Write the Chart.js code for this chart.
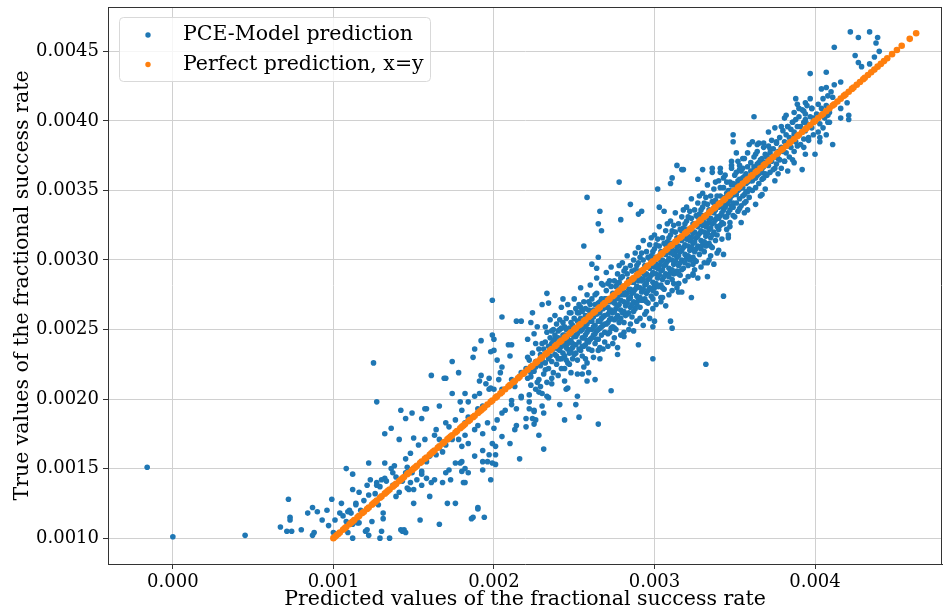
<!DOCTYPE html>
<html><head><meta charset="utf-8">
<script src="https://cdn.jsdelivr.net/npm/chart.js@4"></script>
<style>html,body{margin:0;padding:0;background:#fff}canvas{display:block}</style>
</head><body>
<canvas id="c" width="946" height="612"></canvas>
<script>
const seriesNames = ['PCE-Model prediction', 'Perfect prediction, x=y'];
const xAxisTitle = 'Predicted values of the fractional success rate';
const yAxisTitle = 'True values of the fractional success rate';
const xTickValues = [0, 0.001, 0.002, 0.003, 0.004];
const xTickLabels = ['0.000', '0.001', '0.002', '0.003', '0.004'];
const yTickValues = [0.0010, 0.0015, 0.0020, 0.0025, 0.0030, 0.0035, 0.0040, 0.0045];
const yTickLabels = ['0.0010', '0.0015', '0.0020', '0.0025', '0.0030', '0.0035', '0.0040', '0.0045'];

// [predicted, true] pairs
const modelPoints = [
[-0.00016,0.00151],[0.00000,0.00101],[0.00045,0.00102],[0.00067,0.00108],[0.00072,0.00128],[0.00071,0.00105],[0.00074,0.00105],[0.00073,0.00115],[0.00073,0.00113],[0.00080,0.00106],[0.00084,0.00118],[0.00087,0.00122],[0.00090,0.00119],[0.00087,0.00102],[0.00088,0.00104],[0.00093,0.00113],[0.00096,0.00120],[0.00097,0.00109],[0.00099,0.00128],[0.00100,0.00104],[0.00101,0.00113],[0.00104,0.00118],[0.00105,0.00125],[0.00106,0.00116],[0.00108,0.00150],[0.00109,0.00104],[0.00110,0.00120],[0.00111,0.00118],[0.00112,0.00100],[0.00112,0.00135],[0.00112,0.00146],[0.00115,0.00111],[0.00114,0.00125],[0.00116,0.00133],[0.00120,0.00105],[0.00122,0.00154],[0.00121,0.00138],[0.00122,0.00102],[0.00123,0.00142],[0.00124,0.00112],[0.00126,0.00132],[0.00127,0.00140],[0.00128,0.00124],[0.00129,0.00100],[0.00130,0.00105],[0.00131,0.00118],[0.00131,0.00114],[0.00132,0.00143],[0.00133,0.00141],[0.00136,0.00150],[0.00137,0.00138],[0.00138,0.00152],[0.00139,0.00130],[0.00141,0.00133],[0.00142,0.00106],[0.00144,0.00106],[0.00145,0.00104],[0.00143,0.00141],[0.00146,0.00136],[0.00147,0.00135],[0.00149,0.00147],[0.00150,0.00125],[0.00150,0.00135],[0.00154,0.00113],[0.00155,0.00138],[0.00155,0.00146],[0.00158,0.00143],[0.00160,0.00130],[0.00161,0.00140],[0.00166,0.00110],[0.00168,0.00140],[0.00171,0.00125],[0.00173,0.00142],[0.00179,0.00154],[0.00180,0.00148],[0.00181,0.00140],[0.00184,0.00147],[0.00186,0.00114],[0.00190,0.00122],[0.00194,0.00115],[0.00193,0.00155],[0.00198,0.00142],[0.00199,0.00154],[0.00201,0.00153],[0.00216,0.00157],[0.00197,0.00160],[0.00201,0.00160],[0.00231,0.00164],
[0.00125,0.00226],[0.00127,0.00198],[0.00132,0.00154],[0.00132,0.00175],[0.00136,0.00179],[0.00141,0.00171],[0.00142,0.00192],[0.00145,0.00186],[0.00150,0.00172],[0.00149,0.00190],[0.00155,0.00186],[0.00158,0.00193],[0.00161,0.00217],[0.00163,0.00174],[0.00170,0.00215],[0.00174,0.00227],[0.00178,0.00219],[0.00188,0.00236],[0.00192,0.00242],[0.00199,0.00246],[0.00200,0.00235],[0.00198,0.00234],[0.00209,0.00239],[0.00221,0.00243],[0.00176,0.00125],[0.00190,0.00121],[0.00187,0.00115],[0.00172,0.00149],[0.00182,0.00140],[0.00201,0.00166],[0.00180,0.00155],[0.00180,0.00166],[0.00196,0.00155],[0.00193,0.00149],[0.00224,0.00186],[0.00225,0.00192],[0.00230,0.00195],[0.00228,0.00174],[0.00220,0.00186],[0.00214,0.00181],
[0.00199,0.00271],[0.00205,0.00259],[0.00214,0.00256],[0.00217,0.00256],[0.00224,0.00262],[0.00233,0.00276],[0.00243,0.00272],[0.00230,0.00268],[0.00234,0.00269],[0.00187,0.00230],[0.00169,0.00215],[0.00200,0.00243],[0.00211,0.00239],[0.00202,0.00228],[0.00210,0.00231],[0.00225,0.00247],[0.00232,0.00252],[0.00227,0.00252],[0.00238,0.00243],[0.00236,0.00240],[0.00174,0.00204],[0.00179,0.00198],[0.00182,0.00204],[0.00166,0.00195],[0.00157,0.00193],[0.00170,0.00183],[0.00184,0.00187],[0.00190,0.00193],[0.00191,0.00204],[0.00192,0.00217],[0.00191,0.00213],[0.00197,0.00215],[0.00198,0.00208],[0.00200,0.00207],[0.00203,0.00214],[0.00204,0.00219],[0.00205,0.00223],[0.00213,0.00213],[0.00211,0.00199],[0.00217,0.00202],[0.00222,0.00193],[0.00222,0.00198],[0.00225,0.00191],[0.00229,0.00209],[0.00233,0.00202],[0.00236,0.00211],[0.00226,0.00185],[0.00225,0.00182],[0.00234,0.00201],[0.00246,0.00208],[0.00244,0.00185],[0.00252,0.00202],[0.00241,0.00196],
[0.00130,0.00142],[0.00127,0.00138],[0.00129,0.00137],[0.00139,0.00144],[0.00137,0.00147],[0.00145,0.00147],[0.00146,0.00151],[0.00148,0.00140],[0.00152,0.00142],[0.00155,0.00148],[0.00158,0.00155],[0.00160,0.00159],[0.00164,0.00160],[0.00166,0.00165],[0.00168,0.00162],[0.00170,0.00167],[0.00174,0.00171],[0.00178,0.00171],[0.00182,0.00174],[0.00184,0.00168],[0.00188,0.00178],[0.00190,0.00181],[0.00193,0.00175],[0.00196,0.00183],[0.00200,0.00179],[0.00202,0.00185],[0.00205,0.00190],[0.00207,0.00192],[0.00211,0.00196],[0.00214,0.00193],[0.00217,0.00201],[0.00222,0.00203],[0.00226,0.00207],[0.00230,0.00204],
[0.00145,0.00157],[0.00148,0.00161],[0.00153,0.00167],[0.00157,0.00171],[0.00164,0.00178],[0.00166,0.00171],[0.00172,0.00180],[0.00176,0.00185],[0.00180,0.00192],[0.00182,0.00183],[0.00184,0.00198],[0.00188,0.00202],[0.00193,0.00195],[0.00197,0.00207],[0.00195,0.00211],[0.00205,0.00207],[0.00211,0.00214],[0.00213,0.00209],[0.00217,0.00219],[0.00223,0.00216],[0.00226,0.00223],[0.00228,0.00214],[0.00230,0.00227],[0.00232,0.00221],
[0.00163,0.00142],[0.00170,0.00147],[0.00176,0.00154],[0.00182,0.00150],[0.00188,0.00159],[0.00193,0.00163],[0.00199,0.00168],[0.00205,0.00173],[0.00210,0.00168],[0.00213,0.00178],[0.00220,0.00180],[0.00231,0.00190],
[0.00109,0.00119],[0.00114,0.00124],[0.00117,0.00120],[0.00119,0.00127],[0.00122,0.00131],[0.00108,0.00112],[0.00112,0.00110],[0.00116,0.00111],[0.00121,0.00106],[0.00143,0.00105],[0.00135,0.00100],
[0.00273,0.00206],[0.00265,0.00182],[0.00253,0.00187],[0.00251,0.00196],[0.00245,0.00207],[0.00258,0.00213],[0.00263,0.00214],[0.00259,0.00219],[0.00244,0.00222],[0.00255,0.00218],[0.00277,0.00232],[0.00290,0.00239],[0.00281,0.00245],[0.00300,0.00256],[0.00310,0.00256],[0.00311,0.00251],[0.00293,0.00253],[0.00299,0.00252],[0.00299,0.00229],[0.00332,0.00225],
[0.00258,0.00345],[0.00266,0.00335],[0.00265,0.00326],[0.00267,0.00321],[0.00256,0.00310],[0.00261,0.00297],[0.00264,0.00294],[0.00285,0.00340],[0.00278,0.00356],[0.00223,0.00255],
[0.00265,0.00302],[0.00279,0.00329],[0.00290,0.00333],[0.00292,0.00335],[0.00302,0.00351],[0.00303,0.00338],[0.00306,0.00335],[0.00310,0.00355],[0.00311,0.00359],[0.00314,0.00368],[0.00317,0.00365],[0.00327,0.00358],[0.00336,0.00366],[0.00341,0.00366],[0.00349,0.00390],[0.00348,0.00371],[0.00351,0.00377],
[0.00343,0.00274],[0.00333,0.00288],[0.00324,0.00289],[0.00324,0.00297],[0.00340,0.00307],[0.00347,0.00324],[0.00346,0.00316],[0.00315,0.00277],[0.00315,0.00283],[0.00317,0.00293],[0.00312,0.00283],[0.00304,0.00273],[0.00300,0.00280],[0.00299,0.00272],[0.00323,0.00273],[0.00343,0.00304],[0.00333,0.00298],
[0.00422,0.00464],[0.00427,0.00460],[0.00434,0.00464],[0.00438,0.00456],[0.00412,0.00453],[0.00425,0.00447],[0.00427,0.00442],[0.00429,0.00439],[0.00434,0.00441],[0.00437,0.00437],[0.00407,0.00435],[0.00397,0.00434],[0.00416,0.00428],[0.00412,0.00426],[0.00407,0.00424],[0.00410,0.00421],[0.00404,0.00423],[0.00411,0.00417],[0.00420,0.00413],[0.00416,0.00409],[0.00421,0.00404],[0.00421,0.00401],[0.00416,0.00402],[0.00409,0.00399],[0.00408,0.00404],[0.00407,0.00390],[0.00403,0.00385],[0.00411,0.00383],[0.00400,0.00376],[0.00388,0.00416],[0.00389,0.00412],[0.00394,0.00413],[0.00397,0.00416],[0.00398,0.00409],[0.00390,0.00409],[0.00393,0.00407],[0.00387,0.00406],[0.00394,0.00401],[0.00362,0.00403],[0.00381,0.00402],[0.00379,0.00396],[0.00383,0.00396],[0.00386,0.00399],[0.00387,0.00390],[0.00396,0.00388],[0.00403,0.00388],[0.00376,0.00385],[0.00349,0.00385],[0.00359,0.00383],[0.00364,0.00383],[0.00368,0.00384],[0.00372,0.00380],[0.00393,0.00381],[0.00394,0.00376],[0.00355,0.00373],[0.00358,0.00377],[0.00363,0.00376],[0.00366,0.00370],[0.00370,0.00374],[0.00377,0.00373],[0.00381,0.00371],[0.00387,0.00370],[0.00392,0.00365],[0.00383,0.00364],[0.00375,0.00366],[0.00367,0.00363],[0.00361,0.00363],[0.00353,0.00368],[0.00348,0.00368],[0.00336,0.00363],[0.00341,0.00363],[0.00330,0.00365],[0.00318,0.00365],[0.00439,0.00460],[0.00440,0.00450],[0.00437,0.00446],
[0.00230,0.00229],[0.00231,0.00236],[0.00232,0.00226],[0.00232,0.00241],[0.00233,0.00233],[0.00233,0.00248],[0.00234,0.00222],[0.00234,0.00238],[0.00235,0.00231],[0.00235,0.00244],[0.00236,0.00227],[0.00236,0.00236],[0.00237,0.00219],[0.00237,0.00242],[0.00237,0.00250],[0.00238,0.00232],[0.00238,0.00246],[0.00239,0.00225],[0.00239,0.00239],[0.00239,0.00254],[0.00231,0.00218],[0.00233,0.00212],[0.00235,0.00257],[0.00236,0.00215],[0.00238,0.00260],[0.00234,0.00229],[0.00236,0.00249],[0.00230,0.00240],[0.00239,0.00231],[0.00237,0.00236],
[0.00240,0.00236],[0.00240,0.00249],[0.00241,0.00229],[0.00241,0.00243],[0.00241,0.00257],[0.00242,0.00238],[0.00242,0.00222],[0.00243,0.00246],[0.00243,0.00233],[0.00244,0.00252],[0.00244,0.00240],[0.00245,0.00228],[0.00245,0.00244],[0.00245,0.00258],[0.00246,0.00236],[0.00246,0.00250],[0.00247,0.00242],[0.00247,0.00225],[0.00247,0.00262],[0.00248,0.00247],[0.00248,0.00234],[0.00249,0.00253],[0.00249,0.00240],[0.00249,0.00229],[0.00240,0.00217],[0.00242,0.00266],[0.00244,0.00213],[0.00246,0.00268],[0.00248,0.00219],[0.00243,0.00255],[0.00245,0.00237],[0.00247,0.00251],[0.00249,0.00246],[0.00241,0.00250],[0.00248,0.00262],[0.00246,0.00243],
[0.00250,0.00245],[0.00250,0.00258],[0.00250,0.00232],[0.00251,0.00251],[0.00251,0.00239],[0.00252,0.00262],[0.00252,0.00247],[0.00252,0.00228],[0.00253,0.00255],[0.00253,0.00241],[0.00254,0.00249],[0.00254,0.00266],[0.00254,0.00235],[0.00255,0.00257],[0.00255,0.00244],[0.00256,0.00252],[0.00256,0.00238],[0.00256,0.00270],[0.00257,0.00260],[0.00257,0.00246],[0.00257,0.00229],[0.00258,0.00254],[0.00258,0.00242],[0.00259,0.00264],[0.00259,0.00250],[0.00259,0.00236],[0.00250,0.00272],[0.00252,0.00218],[0.00254,0.00280],[0.00256,0.00223],[0.00258,0.00275],[0.00253,0.00268],[0.00255,0.00231],[0.00257,0.00239],[0.00259,0.00258],[0.00251,0.00265],[0.00258,0.00226],[0.00255,0.00263],
[0.00260,0.00256],[0.00260,0.00243],[0.00260,0.00268],[0.00261,0.00250],[0.00261,0.00262],[0.00261,0.00235],[0.00262,0.00259],[0.00262,0.00246],[0.00263,0.00268],[0.00263,0.00253],[0.00263,0.00240],[0.00264,0.00261],[0.00264,0.00249],[0.00264,0.00276],[0.00265,0.00256],[0.00265,0.00243],[0.00265,0.00269],[0.00266,0.00262],[0.00266,0.00251],[0.00266,0.00237],[0.00267,0.00272],[0.00267,0.00258],[0.00267,0.00246],[0.00268,0.00265],[0.00268,0.00253],[0.00268,0.00282],[0.00269,0.00260],[0.00269,0.00248],[0.00269,0.00241],[0.00260,0.00282],[0.00262,0.00230],[0.00264,0.00287],[0.00266,0.00229],[0.00268,0.00236],[0.00263,0.00275],[0.00265,0.00235],[0.00267,0.00283],[0.00269,0.00272],[0.00261,0.00272],[0.00262,0.00264],[0.00266,0.00270],
[0.00270,0.00266],[0.00270,0.00254],[0.00270,0.00278],[0.00271,0.00261],[0.00271,0.00247],[0.00272,0.00270],[0.00272,0.00257],[0.00272,0.00285],[0.00273,0.00264],[0.00273,0.00251],[0.00274,0.00276],[0.00274,0.00262],[0.00274,0.00240],[0.00275,0.00269],[0.00275,0.00257],[0.00276,0.00281],[0.00276,0.00265],[0.00276,0.00250],[0.00277,0.00273],[0.00277,0.00260],[0.00277,0.00290],[0.00278,0.00268],[0.00278,0.00255],[0.00279,0.00279],[0.00279,0.00264],[0.00279,0.00246],[0.00270,0.00291],[0.00271,0.00238],[0.00273,0.00295],[0.00275,0.00244],[0.00277,0.00237],[0.00278,0.00296],[0.00272,0.00248],[0.00274,0.00252],[0.00276,0.00272],[0.00278,0.00284],[0.00279,0.00271],[0.00271,0.00283],[0.00275,0.00285],[0.00273,0.00272],
[0.00280,0.00275],[0.00280,0.00262],[0.00280,0.00288],[0.00281,0.00270],[0.00281,0.00255],[0.00282,0.00281],[0.00282,0.00267],[0.00282,0.00294],[0.00283,0.00276],[0.00283,0.00261],[0.00284,0.00286],[0.00284,0.00272],[0.00284,0.00250],[0.00285,0.00279],[0.00285,0.00266],[0.00286,0.00292],[0.00286,0.00276],[0.00286,0.00259],[0.00287,0.00284],[0.00287,0.00270],[0.00287,0.00300],[0.00288,0.00279],[0.00288,0.00265],[0.00289,0.00289],[0.00289,0.00274],[0.00289,0.00256],[0.00280,0.00298],[0.00281,0.00248],[0.00283,0.00303],[0.00285,0.00254],[0.00287,0.00249],[0.00288,0.00305],[0.00282,0.00275],[0.00284,0.00262],[0.00286,0.00284],[0.00288,0.00293],[0.00289,0.00281],[0.00281,0.00292],[0.00285,0.00296],[0.00283,0.00283],
[0.00290,0.00285],[0.00290,0.00271],[0.00290,0.00298],[0.00291,0.00280],[0.00291,0.00266],[0.00292,0.00291],[0.00292,0.00277],[0.00292,0.00305],[0.00293,0.00286],[0.00293,0.00271],[0.00294,0.00296],[0.00294,0.00282],[0.00294,0.00261],[0.00295,0.00290],[0.00295,0.00276],[0.00296,0.00302],[0.00296,0.00286],[0.00296,0.00269],[0.00297,0.00294],[0.00297,0.00280],[0.00297,0.00311],[0.00298,0.00289],[0.00298,0.00274],[0.00299,0.00299],[0.00299,0.00284],[0.00299,0.00265],[0.00290,0.00309],[0.00291,0.00258],[0.00293,0.00314],[0.00295,0.00263],[0.00297,0.00258],[0.00298,0.00316],[0.00292,0.00285],[0.00294,0.00272],[0.00296,0.00295],[0.00298,0.00303],[0.00299,0.00291],[0.00291,0.00302],[0.00295,0.00306],[0.00293,0.00293],
[0.00300,0.00295],[0.00300,0.00281],[0.00300,0.00308],[0.00301,0.00290],[0.00301,0.00276],[0.00302,0.00301],[0.00302,0.00287],[0.00302,0.00315],[0.00303,0.00296],[0.00303,0.00281],[0.00304,0.00306],[0.00304,0.00292],[0.00304,0.00270],[0.00305,0.00300],[0.00305,0.00286],[0.00306,0.00312],[0.00306,0.00296],[0.00306,0.00279],[0.00307,0.00304],[0.00307,0.00290],[0.00307,0.00321],[0.00308,0.00299],[0.00308,0.00284],[0.00309,0.00309],[0.00309,0.00294],[0.00309,0.00275],[0.00300,0.00318],[0.00301,0.00268],[0.00303,0.00324],[0.00305,0.00273],[0.00307,0.00267],[0.00308,0.00326],[0.00302,0.00294],[0.00304,0.00282],[0.00306,0.00305],[0.00308,0.00313],[0.00309,0.00301],[0.00301,0.00311],[0.00305,0.00316],[0.00303,0.00303],
[0.00310,0.00305],[0.00310,0.00291],[0.00310,0.00318],[0.00311,0.00300],[0.00311,0.00286],[0.00312,0.00311],[0.00312,0.00297],[0.00312,0.00325],[0.00313,0.00306],[0.00313,0.00291],[0.00314,0.00316],[0.00314,0.00302],[0.00314,0.00280],[0.00315,0.00310],[0.00315,0.00296],[0.00316,0.00322],[0.00316,0.00306],[0.00316,0.00289],[0.00317,0.00314],[0.00317,0.00300],[0.00317,0.00331],[0.00318,0.00309],[0.00318,0.00294],[0.00319,0.00319],[0.00319,0.00304],[0.00319,0.00285],[0.00310,0.00328],[0.00311,0.00278],[0.00313,0.00334],[0.00315,0.00283],[0.00317,0.00277],[0.00318,0.00336],[0.00312,0.00304],[0.00314,0.00292],[0.00316,0.00315],[0.00318,0.00323],[0.00319,0.00311],[0.00311,0.00321],[0.00315,0.00326],[0.00313,0.00313],
[0.00320,0.00315],[0.00320,0.00301],[0.00320,0.00328],[0.00321,0.00310],[0.00321,0.00296],[0.00322,0.00321],[0.00322,0.00307],[0.00322,0.00335],[0.00323,0.00316],[0.00323,0.00301],[0.00324,0.00326],[0.00324,0.00312],[0.00324,0.00290],[0.00325,0.00320],[0.00325,0.00306],[0.00326,0.00332],[0.00326,0.00316],[0.00326,0.00299],[0.00327,0.00324],[0.00327,0.00310],[0.00327,0.00341],[0.00328,0.00319],[0.00328,0.00304],[0.00329,0.00329],[0.00329,0.00314],[0.00329,0.00295],[0.00320,0.00338],[0.00321,0.00288],[0.00323,0.00344],[0.00325,0.00293],[0.00327,0.00287],[0.00328,0.00346],[0.00322,0.00314],[0.00324,0.00302],[0.00326,0.00325],[0.00328,0.00333],[0.00329,0.00321],[0.00321,0.00331],[0.00325,0.00336],[0.00323,0.00323],
[0.00330,0.00325],[0.00330,0.00311],[0.00330,0.00338],[0.00331,0.00320],[0.00331,0.00306],[0.00332,0.00331],[0.00332,0.00317],[0.00332,0.00345],[0.00333,0.00326],[0.00333,0.00311],[0.00334,0.00336],[0.00334,0.00322],[0.00334,0.00300],[0.00335,0.00330],[0.00335,0.00316],[0.00336,0.00342],[0.00336,0.00326],[0.00336,0.00309],[0.00337,0.00334],[0.00337,0.00320],[0.00337,0.00351],[0.00338,0.00329],[0.00338,0.00314],[0.00339,0.00339],[0.00339,0.00324],[0.00339,0.00305],[0.00330,0.00348],[0.00331,0.00298],[0.00333,0.00354],[0.00335,0.00303],[0.00337,0.00297],[0.00338,0.00356],[0.00332,0.00324],[0.00334,0.00312],[0.00336,0.00335],[0.00338,0.00343],[0.00339,0.00331],[0.00331,0.00341],[0.00335,0.00346],[0.00333,0.00333],
[0.00340,0.00338],[0.00340,0.00322],[0.00341,0.00332],[0.00341,0.00346],[0.00342,0.00327],[0.00342,0.00341],[0.00343,0.00336],[0.00343,0.00352],[0.00344,0.00331],[0.00344,0.00345],[0.00345,0.00322],[0.00345,0.00340],[0.00346,0.00350],[0.00346,0.00334],[0.00347,0.00344],[0.00347,0.00327],[0.00348,0.00354],[0.00348,0.00339],[0.00349,0.00348],[0.00349,0.00332],[0.00340,0.00357],[0.00342,0.00315],[0.00344,0.00361],[0.00346,0.00318],[0.00348,0.00366],[0.00345,0.00356],[0.00347,0.00336],[0.00349,0.00341],[0.00341,0.00339],[0.00343,0.00326],
[0.00350,0.00347],[0.00350,0.00361],[0.00351,0.00341],[0.00351,0.00354],[0.00352,0.00335],[0.00352,0.00350],[0.00353,0.00358],[0.00353,0.00344],[0.00354,0.00364],[0.00354,0.00339],[0.00355,0.00352],[0.00355,0.00346],[0.00356,0.00360],[0.00356,0.00334],[0.00357,0.00355],[0.00357,0.00342],[0.00358,0.00367],[0.00358,0.00349],[0.00359,0.00358],[0.00359,0.00345],[0.00350,0.00331],[0.00352,0.00371],[0.00354,0.00327],[0.00356,0.00373],[0.00358,0.00336],[0.00353,0.00351],[0.00355,0.00366],[0.00357,0.00362],
[0.00360,0.00357],[0.00360,0.00370],[0.00361,0.00350],[0.00361,0.00364],[0.00362,0.00359],[0.00362,0.00374],[0.00363,0.00352],[0.00363,0.00366],[0.00364,0.00361],[0.00364,0.00378],[0.00365,0.00355],[0.00365,0.00370],[0.00366,0.00364],[0.00366,0.00346],[0.00367,0.00373],[0.00367,0.00358],[0.00368,0.00367],[0.00368,0.00381],[0.00369,0.00362],[0.00369,0.00351],[0.00361,0.00385],[0.00363,0.00340],[0.00365,0.00384],[0.00367,0.00347],[0.00369,0.00376],
[0.00370,0.00374],[0.00370,0.00361],[0.00371,0.00368],[0.00371,0.00382],[0.00372,0.00377],[0.00372,0.00363],[0.00373,0.00371],[0.00373,0.00386],[0.00374,0.00365],[0.00374,0.00380],[0.00375,0.00374],[0.00375,0.00357],[0.00376,0.00384],[0.00376,0.00369],[0.00377,0.00378],[0.00377,0.00362],[0.00378,0.00388],[0.00378,0.00372],[0.00379,0.00381],[0.00379,0.00366],[0.00371,0.00392],[0.00375,0.00395],
[0.00380,0.00378],[0.00380,0.00393],[0.00381,0.00385],[0.00381,0.00371],[0.00382,0.00390],[0.00382,0.00377],[0.00383,0.00396],[0.00383,0.00382],[0.00384,0.00388],[0.00384,0.00374],[0.00385,0.00394],[0.00385,0.00381],[0.00386,0.00399],[0.00386,0.00387],[0.00387,0.00392],[0.00387,0.00378],[0.00388,0.00401],[0.00388,0.00385],[0.00389,0.00396],[0.00389,0.00382],[0.00382,0.00404],[0.00386,0.00372],
[0.00390,0.00390],[0.00390,0.00403],[0.00391,0.00396],[0.00391,0.00383],[0.00392,0.00408],[0.00392,0.00392],[0.00393,0.00399],[0.00393,0.00387],[0.00394,0.00405],[0.00394,0.00393],[0.00395,0.00411],[0.00395,0.00398],[0.00396,0.00386],[0.00397,0.00403],[0.00398,0.00409],[0.00398,0.00395],[0.00399,0.00402],[0.00399,0.00390],
[0.00401,0.00405],[0.00402,0.00412],[0.00403,0.00398],[0.00404,0.00409],[0.00405,0.00416],[0.00406,0.00402],[0.00407,0.00411],[0.00408,0.00418],[0.00409,0.00406],[0.00405,0.00395],[0.00402,0.00392],[0.00408,0.00399],
[0.00220,0.00222],[0.00221,0.00215],[0.00222,0.00228],[0.00223,0.00210],[0.00224,0.00233],[0.00225,0.00220],[0.00226,0.00227],[0.00227,0.00212],[0.00228,0.00236],[0.00229,0.00224],[0.00221,0.00230],[0.00223,0.00219],[0.00226,0.00240],[0.00228,0.00205],[0.00229,0.00232],
[0.00240,0.00244],[0.00241,0.00235],[0.00242,0.00251],[0.00243,0.00240],[0.00244,0.00231],[0.00245,0.00250],[0.00246,0.00240],[0.00247,0.00233],[0.00248,0.00255],[0.00249,0.00237],[0.00242,0.00229],[0.00244,0.00246],[0.00246,0.00226],[0.00248,0.00242],[0.00240,0.00229],
[0.00250,0.00250],[0.00251,0.00245],[0.00252,0.00256],[0.00253,0.00236],[0.00254,0.00258],[0.00255,0.00250],[0.00256,0.00244],[0.00257,0.00265],[0.00258,0.00248],[0.00259,0.00241],[0.00251,0.00233],[0.00253,0.00262],[0.00255,0.00238],[0.00257,0.00252],[0.00259,0.00270],
[0.00260,0.00262],[0.00261,0.00256],[0.00262,0.00252],[0.00263,0.00262],[0.00264,0.00243],[0.00265,0.00263],[0.00266,0.00256],[0.00267,0.00265],[0.00268,0.00259],[0.00269,0.00266],[0.00261,0.00244],[0.00263,0.00247],[0.00265,0.00250],[0.00267,0.00252],[0.00269,0.00254],
[0.00270,0.00272],[0.00271,0.00266],[0.00272,0.00263],[0.00273,0.00258],[0.00274,0.00270],[0.00275,0.00263],[0.00276,0.00258],[0.00277,0.00267],[0.00278,0.00275],[0.00279,0.00258],[0.00271,0.00255],[0.00273,0.00281],[0.00275,0.00251],[0.00277,0.00283],[0.00279,0.00287],
[0.00280,0.00281],[0.00281,0.00277],[0.00282,0.00260],[0.00283,0.00269],[0.00284,0.00279],[0.00285,0.00273],[0.00286,0.00268],[0.00287,0.00277],[0.00288,0.00286],[0.00289,0.00268],[0.00281,0.00263],[0.00283,0.00290],[0.00285,0.00286],[0.00287,0.00263],[0.00289,0.00296],
[0.00290,0.00292],[0.00291,0.00287],[0.00292,0.00271],[0.00293,0.00279],[0.00294,0.00289],[0.00295,0.00283],[0.00296,0.00278],[0.00297,0.00287],[0.00298,0.00296],[0.00299,0.00278],[0.00291,0.00273],[0.00293,0.00300],[0.00295,0.00270],[0.00297,0.00301],[0.00299,0.00306],
[0.00300,0.00302],[0.00301,0.00297],[0.00302,0.00281],[0.00303,0.00289],[0.00304,0.00299],[0.00305,0.00293],[0.00306,0.00288],[0.00307,0.00297],[0.00308,0.00306],[0.00309,0.00288],[0.00301,0.00283],[0.00303,0.00310],[0.00305,0.00280],[0.00307,0.00311],[0.00309,0.00316],
[0.00310,0.00312],[0.00311,0.00307],[0.00312,0.00290],[0.00313,0.00299],[0.00314,0.00309],[0.00315,0.00303],[0.00316,0.00298],[0.00317,0.00307],[0.00318,0.00316],[0.00319,0.00298],[0.00311,0.00293],[0.00313,0.00320],[0.00315,0.00290],[0.00317,0.00321],[0.00319,0.00326],
[0.00320,0.00322],[0.00321,0.00317],[0.00322,0.00300],[0.00323,0.00309],[0.00324,0.00319],[0.00325,0.00313],[0.00326,0.00308],[0.00327,0.00317],[0.00328,0.00326],[0.00329,0.00308],[0.00321,0.00303],[0.00323,0.00330],[0.00325,0.00300],[0.00327,0.00331],[0.00329,0.00336],
[0.00330,0.00332],[0.00331,0.00327],[0.00332,0.00310],[0.00333,0.00319],[0.00334,0.00329],[0.00335,0.00323],[0.00336,0.00318],[0.00337,0.00327],[0.00338,0.00336],[0.00339,0.00318],[0.00331,0.00313],[0.00333,0.00340],[0.00335,0.00310],[0.00337,0.00341],[0.00339,0.00346],
[0.00340,0.00330],[0.00341,0.00352],[0.00342,0.00334],[0.00343,0.00344],[0.00344,0.00338],[0.00345,0.00348],[0.00346,0.00342],[0.00347,0.00356],[0.00348,0.00346],[0.00349,0.00355],[0.00341,0.00325],[0.00343,0.00359],[0.00345,0.00331],[0.00347,0.00350],[0.00349,0.00338],
[0.00350,0.00354],[0.00351,0.00347],[0.00352,0.00357],[0.00353,0.00337],[0.00354,0.00352],[0.00355,0.00359],[0.00356,0.00347],[0.00357,0.00349],[0.00358,0.00356],[0.00359,0.00351],[0.00351,0.00363],[0.00353,0.00365],[0.00356,0.00341],
[0.00360,0.00364],[0.00361,0.00357],[0.00362,0.00367],[0.00363,0.00359],[0.00364,0.00369],[0.00365,0.00362],[0.00366,0.00372],[0.00367,0.00366],[0.00368,0.00359],[0.00369,0.00370]
];

// true values, plotted against themselves (perfect prediction)
const perfectValues = [
0.00100,0.00101,0.00102,0.00103,0.00104,0.00106,0.00107,0.00108,0.00110,0.00111,0.00112,0.00113,0.00115,0.00116,0.00118,0.00119,0.00121,0.00122,0.00124,0.00125,0.00126,0.00127,0.00129,0.00130,0.00132,0.00133,0.00134,0.00135,0.00137,0.00138,0.00139,0.00141,0.00142,0.00143,0.00144,0.00146,0.00147,0.00149,0.00150,0.00151,0.00152,0.00154,0.00155,0.00157,0.00158,0.00160,0.00161,0.00162,0.00163,0.00165,0.00166,0.00168,0.00169,0.00171,0.00172,0.00173,0.00174,0.00176,0.00177,0.00179,0.00180,0.00181,0.00182,0.00184,0.00185,0.00187,0.00188,0.00190,0.00191,0.00192,0.00193,0.00194,0.00196,0.00198,0.00199,0.00201,0.00202,0.00204,0.00205,0.00207,0.00209,0.00210,0.00212,0.00213,0.00215,0.00216,0.00218,0.00219,0.00221,0.00223,0.00224,0.00226,0.00227,0.00229,0.00230,0.00232,0.00233,0.00235,0.00236,0.00238,0.00239,0.00241,0.00242,0.00244,0.00245,0.00247,0.00248,0.00250,0.00251,0.00253,0.00254,0.00256,0.00257,0.00259,0.00260,0.00262,0.00263,0.00265,0.00266,0.00268,0.00269,0.00271,0.00272,0.00274,0.00275,0.00277,0.00278,0.00280,0.00281,0.00283,0.00284,0.00286,0.00287,0.00289,0.00290,0.00292,0.00293,0.00295,0.00296,0.00298,0.00299,0.00301,0.00302,0.00304,0.00305,0.00307,0.00308,0.00310,0.00311,0.00313,0.00314,0.00316,0.00317,0.00319,0.00320,0.00322,0.00323,0.00325,0.00326,0.00328,0.00329,0.00331,0.00332,0.00334,0.00335,0.00337,0.00338,0.00340,0.00341,0.00343,0.00344,0.00346,0.00347,0.00349,0.00350,0.00352,0.00353,0.00355,0.00357,0.00358,0.00360,0.00361,0.00363,0.00364,0.00366,0.00368,0.00369,0.00371,0.00372,0.00374,0.00376,0.00377,0.00379,0.00380,0.00382,0.00384,0.00385,0.00387,0.00389,0.00390,0.00392,0.00394,0.00395,0.00397,0.00399,0.00400,0.00402,0.00404,0.00405,0.00407,0.00409,0.00411,0.00412,0.00414,0.00416,0.00418,0.00419,0.00421,0.00423,0.00424,0.00426,0.00428,0.00430,0.00431,0.00433,0.00435,0.00437,0.00439,0.00441,0.00443,0.00445,0.00448,0.00451,0.00454,0.00459,0.00463
];

Chart.defaults.font.family = "'DejaVu Serif', serif";
Chart.defaults.color = '#000';

const frame = {
  id: 'frame',
  afterDraw(chart) {
    const {ctx, chartArea: a} = chart;
    ctx.save();
    ctx.strokeStyle = '#333';
    ctx.lineWidth = 1;
    ctx.beginPath();
    ctx.moveTo(a.left, Math.round(a.top) + 0.5);
    ctx.lineTo(a.right, Math.round(a.top) + 0.5);
    ctx.moveTo(Math.round(a.right) - 0.5, a.top);
    ctx.lineTo(Math.round(a.right) - 0.5, a.bottom);
    ctx.stroke();
    ctx.restore();
  }
};

const legendBox = {
  id: 'legendBox',
  afterDraw(chart) {
    const c = chart.ctx;
    c.save();
    c.beginPath();
    c.roundRect(119.5, 17.5, 311, 64, 4);
    c.fillStyle = 'rgba(255,255,255,0.8)';
    c.fill();
    c.strokeStyle = '#d9d9d9';
    c.lineWidth = 1;
    c.stroke();
    chart.data.datasets.forEach((ds, i) => {
      const cy = 35 + i * 29.5;
      c.beginPath();
      c.arc(148, cy, 2.7, 0, Math.PI * 2);
      c.fillStyle = ds.backgroundColor;
      c.fill();
      c.fillStyle = '#000';
      c.font = "20.5px 'DejaVu Serif'";
      c.textBaseline = 'middle';
      c.fillText(ds.label, 183, cy);
    });
    c.restore();
  }
};

new Chart(document.getElementById('c'), {
  type: 'scatter',
  data: {
    datasets: [
      {label: seriesNames[0], data: modelPoints.map(p => ({x: p[0], y: p[1]})),
       backgroundColor: '#1f77b4', borderWidth: 0, pointRadius: 2.8, order: 2},
      {label: seriesNames[1], data: perfectValues.map(v => ({x: v, y: v})),
       backgroundColor: '#ff7f0e', borderWidth: 0, pointRadius: 3.3, order: 1}
    ]
  },
  options: {
    responsive: false,
    animation: false,
    devicePixelRatio: 1,
    layout: {padding: {top: 7, right: 2, left: 0, bottom: 0}},
    plugins: {legend: {display: false}, tooltip: {enabled: false}},
    scales: {
      x: {
        type: 'linear', position: 'bottom', min: -0.000404, max: 0.004791,
        afterFit(s) { s.height = 48; s.paddingLeft = 0; s.paddingRight = 0; },
        afterBuildTicks(s) { s.ticks = xTickValues.map(v => ({value: v})); },
        ticks: {callback: (v, i) => xTickLabels[i], color: '#000', font: {size: 18}, padding: 3, maxRotation: 0, autoSkip: false},
        grid: {color: '#d0d0d0', lineWidth: 1, tickLength: 5, tickColor: '#333'},
        border: {display: true, color: '#333', width: 1},
        title: {display: true, text: xAxisTitle, color: '#000', font: {size: 20.5}, padding: {top: 0, bottom: 0}}
      },
      y: {
        type: 'linear', position: 'left', min: 0.000814, max: 0.004819,
        afterFit(s) { s.width = 108; s.paddingTop = 0; s.paddingBottom = 0; },
        afterBuildTicks(s) { s.ticks = yTickValues.map(v => ({value: v})); },
        ticks: {callback: (v, i) => yTickLabels[i], color: '#000', font: {size: 18}, padding: 4, autoSkip: false},
        grid: {color: '#d0d0d0', lineWidth: 1, tickLength: 5, tickColor: '#333'},
        border: {display: true, color: '#333', width: 1},
        title: {display: true, text: yAxisTitle, color: '#000', font: {size: 20.5}, padding: {top: 10, bottom: 0}}
      }
    }
  },
  plugins: [frame, legendBox]
});
</script>
</body></html>
